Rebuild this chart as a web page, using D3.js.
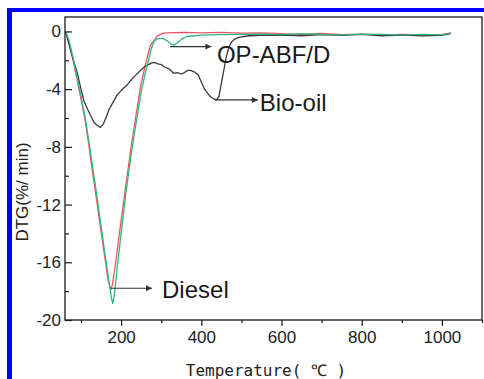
<!DOCTYPE html>
<html>
<head>
<meta charset="utf-8">
<script src="https://cdn.jsdelivr.net/npm/d3@7"></script>
<style>
  body { margin: 0; background: #fff; }
  svg { display: block; }
</style>
</head>
<body>
<svg id="chart" width="484" height="379"></svg>
<script>
// Temperatures (°C) and DTG values (%/min)
const dieselT = [62, 70, 80, 90, 100, 110, 120, 130, 140, 150, 160, 168, 174, 178, 186, 200, 211, 225, 236, 248, 260, 273, 290, 305, 330, 360, 400, 450, 500, 550, 600, 650, 700, 750, 800, 850, 900, 950, 1000, 1022];
const dieselV = [-0.05, -0.8, -2.0, -3.3, -4.7, -6.1, -8.0, -10.0, -11.9, -13.9, -15.8, -17.3, -17.9, -17.6, -16.1, -13.1, -10.8, -8.0, -6.0, -3.9, -2.35, -0.97, -0.33, -0.12, -0.08, -0.06, -0.1, -0.07, -0.12, -0.1, -0.15, -0.2, -0.14, -0.22, -0.18, -0.25, -0.2, -0.24, -0.22, -0.1];

const opT = [62, 70, 80, 90, 100, 110, 120, 130, 140, 150, 160, 170, 176, 179, 183, 190, 200, 212, 225, 238, 250, 260, 268, 275, 282, 290, 305, 315, 325, 332, 340, 350, 364, 400, 450, 500, 550, 600, 650, 700, 750, 800, 850, 900, 950, 1000, 1022];
const opV = [-0.05, -0.6, -1.8, -3.2, -4.5, -5.9, -7.7, -9.6, -11.5, -13.5, -15.5, -17.4, -18.5, -18.85, -18.3, -16.4, -14.0, -11.2, -8.5, -6.2, -4.2, -2.9, -2.0, -1.2, -0.7, -0.5, -0.5, -0.65, -0.9, -0.95, -0.8, -0.55, -0.35, -0.25, -0.22, -0.2, -0.18, -0.22, -0.15, -0.2, -0.25, -0.18, -0.2, -0.26, -0.2, -0.24, -0.12];

const bioT = [62, 70, 80, 90, 100, 107, 115, 125, 132, 140, 148, 155, 162, 170, 180, 190, 200, 215, 230, 245, 256, 265, 275, 282, 292, 300, 310, 320, 331, 340, 350, 358, 366, 373, 382, 392, 400, 408, 416, 424, 432, 438, 444, 450, 456, 462, 468, 475, 482, 495, 520, 550, 600, 650, 700, 750, 800, 850, 900, 950, 1000, 1022];
const bioV = [-0.05, -0.9, -1.9, -2.8, -4.0, -4.8, -5.3, -5.9, -6.3, -6.5, -6.65, -6.45, -6.0, -5.4, -4.9, -4.4, -4.1, -3.7, -3.2, -2.8, -2.5, -2.35, -2.2, -2.15, -2.25, -2.3, -2.5, -2.6, -2.9, -2.85, -2.95, -2.85, -2.7, -2.7, -2.8, -3.0, -3.5, -4.0, -4.3, -4.55, -4.7, -4.75, -4.5, -3.6, -2.7, -1.8, -1.15, -0.75, -0.55, -0.4, -0.3, -0.28, -0.25, -0.3, -0.22, -0.28, -0.2, -0.3, -0.25, -0.3, -0.28, -0.15];

const xTicks = [200, 400, 600, 800, 1000];
const xMinor = [100, 300, 500, 700, 900, 1100];
const yTicks = [0, -4, -8, -12, -16, -20];
const yMinor = [-2, -6, -10, -14, -18];

// arrow labels: start point, arrow end, text
const labels = ['Diesel', 'OP-ABF/D', 'Bio-oil'];
const arrowFrom = [[174, -17.8], [322, -1.05], [434, -4.75]];
const arrowTo = [[277, -17.8], [425, -1.05], [541, -4.75]];
const labelAt = [[302, -18.45], [439, -2.2], [546, -5.5]];

const series = [
  { t: dieselT, v: dieselV, color: '#ea5566' },
  { t: bioT, v: bioV, color: '#3a3a3a' },
  { t: opT, v: opV, color: '#2fb87c' }
];

const svg = d3.select('#chart');
const margin = { left: 65, top: 17, right: 2, bottom: 59 };
const W = 484, H = 379;

const x = d3.scaleLinear().domain([60, 1100]).range([margin.left, W - margin.right]);
const y = d3.scaleLinear().domain([-20, 1]).range([H - margin.bottom, margin.top]);

// blue selection frame (top + left only)
svg.append('rect').attr('x', 7).attr('y', 8).attr('width', 5).attr('height', H - 8).attr('fill', '#0000ff');
svg.append('rect').attr('x', 7).attr('y', 8).attr('width', W - 7).attr('height', 4).attr('fill', '#0000ff');

// curves
const line = d3.line().x(d => x(d[0])).y(d => y(d[1]));
series.forEach(s => {
  svg.append('path')
    .datum(s.t.map((t, i) => [t, s.v[i]]))
    .attr('d', line)
    .attr('fill', 'none')
    .attr('stroke', s.color)
    .attr('stroke-width', 1.3)
    .attr('stroke-linejoin', 'round');
});

// frame
svg.append('rect')
  .attr('x', x(60)).attr('y', y(1))
  .attr('width', x(1100) - x(60)).attr('height', y(-20) - y(1))
  .attr('fill', 'none').attr('stroke', '#1a1a1a').attr('stroke-width', 1.3);

// x axis: ticks pointing out
svg.append('g').attr('transform', `translate(0,${y(-20)})`)
  .call(d3.axisBottom(x).tickValues(xTicks).tickSize(6).tickPadding(5).tickFormat(d => String(d)));
svg.append('g').attr('transform', `translate(0,${y(-20)})`)
  .call(d3.axisBottom(x).tickValues(xMinor).tickSize(3).tickFormat(''));

// y axis: ticks pointing in, plain hyphen minus like the original
const yAxis = svg.append('g').attr('transform', `translate(${x(60)},0)`)
  .call(d3.axisRight(y).tickValues(yTicks).tickSize(7).tickFormat(d => String(d)));
yAxis.selectAll('text').attr('text-anchor', 'end').attr('x', -4);
svg.append('g').attr('transform', `translate(${x(60)},0)`)
  .call(d3.axisRight(y).tickValues(yMinor).tickSize(4).tickFormat(''));

svg.selectAll('.domain').remove();
svg.selectAll('.tick line').attr('stroke', '#1a1a1a').attr('stroke-width', 1.2);
svg.selectAll('.tick text')
  .attr('font-family', 'Liberation Sans, Arial, sans-serif')
  .attr('font-size', 17).attr('fill', '#222');

// axis titles
svg.append('text')
  .attr('x', 266).attr('y', 376)
  .attr('text-anchor', 'middle')
  .attr('font-family', 'DejaVu Sans Mono, monospace')
  .attr('font-size', 16).attr('fill', '#222')
  .text('Temperature( ℃ )');

svg.append('text')
  .attr('transform', 'translate(28,192) rotate(-90)')
  .attr('text-anchor', 'middle')
  .attr('font-family', 'Liberation Sans, Arial, sans-serif')
  .attr('font-size', 17).attr('fill', '#222')
  .text('DTG(%/ min)');

// annotations with arrows
svg.append('defs').append('marker')
  .attr('id', 'head').attr('viewBox', '0 0 10 10')
  .attr('refX', 10).attr('refY', 5)
  .attr('markerWidth', 8).attr('markerHeight', 6)
  .attr('markerUnits', 'userSpaceOnUse')
  .attr('orient', 'auto')
  .append('path').attr('d', 'M0,0 L10,5 L0,10 Z').attr('fill', '#333');

labels.forEach((name, i) => {
  svg.append('line')
    .attr('x1', x(arrowFrom[i][0])).attr('y1', y(arrowFrom[i][1]))
    .attr('x2', x(arrowTo[i][0])).attr('y2', y(arrowTo[i][1]))
    .attr('stroke', '#333').attr('stroke-width', 1.2)
    .attr('marker-end', 'url(#head)');
  svg.append('text')
    .attr('x', x(labelAt[i][0])).attr('y', y(labelAt[i][1]))
    .attr('font-family', 'Liberation Sans, Arial, sans-serif')
    .attr('font-size', 24).attr('fill', '#1a1a1a')
    .text(name);
});
</script>
</body>
</html>
